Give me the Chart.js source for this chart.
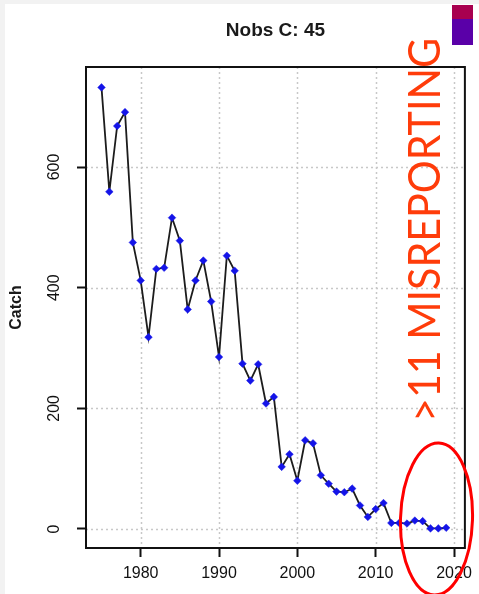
<!DOCTYPE html>
<html>
<head>
<meta charset="utf-8">
<script src="https://cdn.jsdelivr.net/npm/chart.js@4"></script>
<style>
  html, body { margin: 0; padding: 0; background: #fff; }
  canvas { display: block; }
</style>
</head>
<body>
<canvas id="catch-chart" width="479" height="594"></canvas>
<script>
// data
const years = [1975, 1976, 1977, 1978, 1979, 1980, 1981, 1982, 1983, 1984, 1985, 1986, 1987, 1988, 1989,
    1990, 1991, 1992, 1993, 1994, 1995, 1996, 1997, 1998, 1999, 2000, 2001, 2002, 2003, 2004,
    2005, 2006, 2007, 2008, 2009, 2010, 2011, 2012, 2013, 2014, 2015, 2016, 2017, 2018, 2019];
const catchValues = [732, 559, 668, 691, 475, 412, 318, 431, 433, 516, 478, 364, 412, 445, 377,
    285, 453, 428, 274, 246, 273, 208, 219, 103, 124, 80, 147, 142, 89, 75,
    62, 61, 67, 39, 20, 33, 43, 10, 10, 9, 14, 13, 1, 1, 2];
const xTicks = [1980, 1990, 2000, 2010, 2020];
const yTicks = [0, 200, 400, 600];
const titleText = 'Nobs C: 45';
const yTitle = 'Catch';
const noteText = '>11 MISREPORTING';

// extra drawing: dotted grid, box, titles, the red note
const decorations = {
    id: 'decorations',
    beforeDatasetsDraw(chart) {
        const { ctx, chartArea: a, scales } = chart;
        ctx.save();
        ctx.strokeStyle = '#c8c8c8';
        ctx.lineWidth = 1.5;
        ctx.setLineDash([2, 3]);
        xTicks.forEach(v => {
            const x = Math.round(scales.x.getPixelForValue(v)) + 0.5;
            ctx.beginPath(); ctx.moveTo(x, a.top); ctx.lineTo(x, a.bottom); ctx.stroke();
        });
        yTicks.forEach(v => {
            const y = Math.round(scales.y.getPixelForValue(v)) + 0.5;
            ctx.beginPath(); ctx.moveTo(a.left, y); ctx.lineTo(a.right, y); ctx.stroke();
        });
        ctx.restore();
    },
    afterDraw(chart) {
        const { ctx, chartArea: a, scales } = chart;
        ctx.save();

        // faint page edge
        ctx.fillStyle = '#f2f2f2';
        ctx.fillRect(0, 0, 5, 594);
        ctx.fillRect(0, 0, 479, 4);

        // plot box
        ctx.strokeStyle = '#111';
        ctx.lineWidth = 2;
        ctx.strokeRect(a.left, a.top, a.right - a.left, a.bottom - a.top);

        // title
        ctx.fillStyle = '#1a1a1a';
        ctx.font = 'bold 19px "Liberation Sans"';
        ctx.textAlign = 'center';
        ctx.textBaseline = 'alphabetic';
        ctx.fillText(titleText, (a.left + a.right) / 2, 36);

        // y tick labels, rotated like R
        ctx.font = '16px "Liberation Sans"';
        ctx.fillStyle = '#111';
        yTicks.forEach(v => {
            const y = scales.y.getPixelForValue(v);
            ctx.save();
            ctx.translate(55, y);
            ctx.rotate(-Math.PI / 2);
            ctx.textAlign = 'center';
            ctx.textBaseline = 'middle';
            ctx.fillText(String(v), 0, 0);
            ctx.restore();
        });

        // y axis title
        ctx.save();
        ctx.translate(17, (a.top + a.bottom) / 2);
        ctx.rotate(-Math.PI / 2);
        ctx.font = 'bold 16px "Liberation Sans"';
        ctx.fillStyle = '#1a1a1a';
        ctx.textAlign = 'center';
        ctx.textBaseline = 'middle';
        ctx.fillText(yTitle, 0, 0);
        ctx.restore();

        // little colour squares top right
        ctx.fillStyle = '#a8004f';
        ctx.fillRect(452, 5, 21, 14);
        ctx.fillStyle = '#5a00a8';
        ctx.fillRect(452, 19, 21, 26);

        // red note, fitted to the length it has in the picture
        ctx.save();
        ctx.translate(440, 422);
        ctx.rotate(-Math.PI / 2);
        ctx.font = '45px Lato';
        const w = ctx.measureText(noteText).width;
        ctx.scale(384 / w, 1);
        ctx.fillStyle = '#ff3c0a';
        ctx.textAlign = 'left';
        ctx.textBaseline = 'alphabetic';
        ctx.fillText(noteText, 0, 0);
        ctx.restore();

        // red ellipse round the last years
        ctx.strokeStyle = '#ff0000';
        ctx.lineWidth = 3;
        ctx.beginPath();
        ctx.ellipse(436.5, 519, 36, 76, 0.03, 0, Math.PI * 2);
        ctx.stroke();

        ctx.restore();
    }
};

const ctx = document.getElementById('catch-chart').getContext('2d');
const catchChart = new Chart(ctx, {
    type: 'line',
    data: {
        datasets: [{
            label: 'Catch',
            data: years.map((yr, i) => ({ x: yr, y: catchValues[i] })),
            borderColor: '#1c1c1c',
            borderWidth: 1.8,
            tension: 0,
            pointStyle: 'rectRot',
            pointRadius: 3.8,
            pointBackgroundColor: '#1414e8',
            pointBorderColor: '#1414e8',
            pointBorderWidth: 0.5
        }]
    },
    options: {
        responsive: false,
        devicePixelRatio: 1,
        animation: false,
        layout: { padding: { top: 67, right: 7, left: 0, bottom: 0 } },
        plugins: {
            legend: { display: false },
            tooltip: { enabled: false }
        },
        scales: {
            x: {
                type: 'linear',
                min: 1973.02,
                max: 2021.39,
                afterBuildTicks: s => { s.ticks = xTicks.map(v => ({ value: v })); },
                afterFit: s => { s.height = 46; },
                grid: { drawOnChartArea: false, drawTicks: true, tickLength: 9, tickColor: '#111', tickWidth: 2 },
                border: { display: true, color: '#111', width: 2 },
                ticks: {
                    autoSkip: false,
                    maxRotation: 0,
                    padding: 7,
                    color: '#111',
                    font: { size: 16, family: '"Liberation Sans"' },
                    callback: v => String(v)
                }
            },
            y: {
                type: 'linear',
                min: -31.5,
                max: 765.8,
                afterBuildTicks: s => { s.ticks = yTicks.map(v => ({ value: v })); },
                afterFit: s => { s.width = 86; },
                grid: { drawOnChartArea: false, drawTicks: true, tickLength: 9, tickColor: '#111', tickWidth: 2 },
                border: { display: true, color: '#111', width: 2 },
                ticks: {
                    color: 'rgba(0,0,0,0)',
                    font: { size: 16, family: '"Liberation Sans"' },
                    callback: v => String(v)
                }
            }
        }
    },
    plugins: [decorations]
});
</script>
</body>
</html>
